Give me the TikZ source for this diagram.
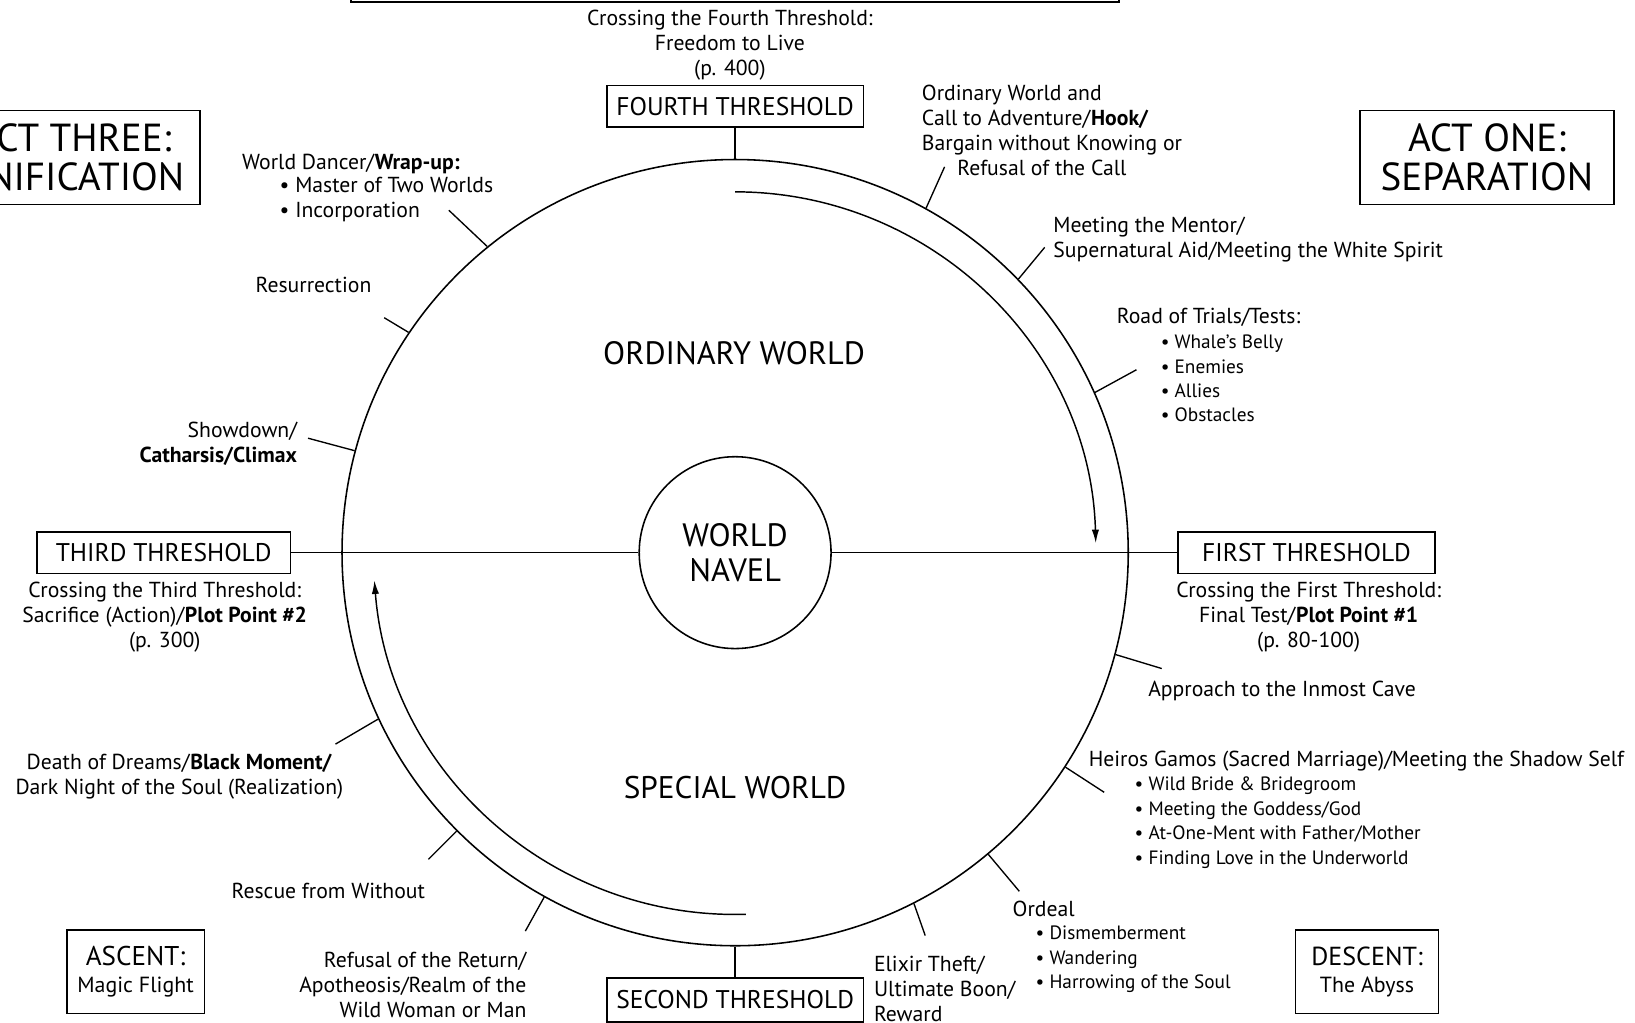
\documentclass[tikz,border=0pt]{standalone}
\usepackage{fontspec}
\setmainfont{PT Sans}
\usepackage{tikz}
\usetikzlibrary{arrows.meta, shapes}

\begin{document}
\begin{tikzpicture}[x=1pt, y=1pt]

	\tikzstyle{lbl}=[inner sep=0pt, font=\fontsize{20.8}{24}\selectfont]
	\tikzstyle{sml}=[inner sep=0pt, align=left, font=\fontsize{18.5}{23.4}\selectfont]
	\tikzstyle{thr}=[draw=black, line width=1.6pt, minimum width=246pt, minimum height=40pt, inner sep=0pt, font=\fontsize{24.5}{26}\selectfont]
	\tikzstyle{act}=[draw=black, line width=1.6pt, minimum width=244pt, minimum height=90pt, inner sep=0pt, align=center, font=\fontsize{37.5}{38}\selectfont]
	\tikzstyle{big}=[inner sep=0pt, align=center, font=\fontsize{31}{34}\selectfont]
	\tikzstyle{tick}=[line width=1.3pt]
	%%	\tikzstyle{arc}=[line width=1.3pt]

	\clip (0,0) rectangle (1568,981);
	\fill [white] (0,0) rectangle (1568,981);

	\node (wheel) at (705,451) [circle, draw=black, line width=1.5pt, minimum size=754pt, inner sep=0pt] {};
	\node (nav) at (705,451) [circle, draw=black, line width=1.5pt, minimum size=184pt, big] {WORLD\\NAVEL};

	\node (th4) at (705,879) [thr] {FOURTH THRESHOLD};
	\node (th1) at (1253,451) [thr] {FIRST THRESHOLD};
	\node (th3) at (157,451) [thr, minimum width=243pt] {THIRD THRESHOLD};
	\node (th2) at (705,22) [thr, minimum height=42pt] {SECOND THRESHOLD};

	\node (act1) at (1426,830) [act] {ACT ONE:\\SEPARATION};
	\node (act3) at (70,830) [act] {ACT THREE:\\UNIFICATION};
	\node (asc) at (130,49) [act, minimum width=132pt, minimum height=80pt, font=\fontsize{26}{26}\selectfont] {ASCENT:\\{\fontsize{21}{26}\selectfont Magic Flight}};
	\node (desc) at (1311,49) [act, minimum width=137pt, minimum height=80pt, font=\fontsize{25}{26}\selectfont] {DESCENT:\\{\fontsize{21}{26}\selectfont The Abyss}};

	\node (ord) at (704,642) [big] {ORDINARY WORLD};
	\node (spec) at (705,226) [big, font=\fontsize{30}{34}\selectfont] {SPECIAL WORLD};

	\draw [line width=1.4pt] (th3.east) -- (nav.west);
	\draw [line width=1.4pt] (nav.east) -- (th1.west);
	\draw [line width=1.4pt] (th4.south) -- (wheel.north);
	\draw [line width=1.4pt] (th2.north) -- (wheel.south);

	\draw [line width=1.4pt, -{Latex[length=13pt, width=7pt]}] ([shift={(90:346)}]wheel.center) arc [start angle=90, end angle=1.5, radius=346];
	\draw [line width=1.4pt, -{Latex[length=13pt, width=7pt]}] ([shift={(-88.3:347)}]wheel.center) arc [start angle=-88.3, end angle=-175.6, radius=347];

	\draw [tick] (wheel.61.5) -- ([shift={(61.5:421)}]wheel.center);
	\draw [tick] (wheel.44.6) -- ([shift={(44.6:417)}]wheel.center);
	\draw [tick] (wheel.24.5) -- ([shift={(24.5:423)}]wheel.center);
	\draw [tick] (wheel.-15.2) -- ([shift={(-15.2:424)}]wheel.center);
	\draw [tick] (wheel.-33) -- ([shift={(-33:422)}]wheel.center);
	\draw [tick] (wheel.-50) -- ([shift={(-50:424)}]wheel.center);
	\draw [tick] (wheel.-63.6) -- ([shift={(-63.6:410)}]wheel.center);
	\draw [tick] (wheel.-119) -- ([shift={(-119:415)}]wheel.center);
	\draw [tick] (wheel.-135) -- ([shift={(-135:416)}]wheel.center);
	\draw [tick] (wheel.205.6) -- ([shift={(205.6:425)}]wheel.center);
	\draw [tick] (wheel.165) -- ([shift={(165:424)}]wheel.center);
	\draw [tick] (wheel.146.2) -- ([shift={(146.2:405)}]wheel.center);
	\draw [tick] (wheel.129.9) -- ([shift={(129.9:428)}]wheel.center);

	\draw [line width=2pt] (337,979) rectangle (1073,1030);

	\node (cr4) at (700,938) [lbl, align=center] {Crossing the Fourth Threshold:\\Freedom to Live\\(p. 400)};
	\node (cr1) at (1255,389) [lbl, align=center] {Crossing the First Threshold:\\Final Test/\textbf{Plot Point \#1}\\(p. 80-100)};
	\node (cr3) at (158,389) [lbl, align=center] {Crossing the Third Threshold:\\Sacrifice (Action)/\textbf{Plot Point \#2}\\(p. 300)};

	\node (call) at (884,856) [lbl, anchor=west, align=left] {Ordinary World and\\Call to Adventure/\textbf{Hook/}\\Bargain without Knowing or\\\hspace*{34pt}Refusal of the Call};
	\node (ment) at (1010,751) [lbl, anchor=west, align=left] {Meeting the Mentor/\\Supernatural Aid/Meeting the White Spirit};
	\node (road) at (1071,677) [lbl, anchor=west] {Road of Trials/Tests:};
	\node (road1) at (1113,618) [sml, anchor=west] {• Whale's Belly\\• Enemies\\• Allies\\• Obstacles};
	\node (cave) at (1101,318) [lbl, anchor=west] {Approach to the Inmost Cave};
	\node (gam) at (1044,251) [lbl, anchor=west] {Heiros Gamos (Sacred Marriage)/Meeting the Shadow Self};
	\node (gam1) at (1088,192) [sml, anchor=west] {• Wild Bride \& Bridegroom\\• Meeting the Goddess/God\\• At-One-Ment with Father/Mother\\• Finding Love in the Underworld};
	\node (ordl) at (971,109) [lbl, anchor=west] {Ordeal};
	\node (ordl1) at (993,61) [sml, anchor=west] {• Dismemberment\\• Wandering\\• Harrowing of the Soul};
	\node (elix) at (838,33) [lbl, anchor=west, align=left] {Elixir Theft/\\Ultimate Boon/\\Reward};
	\node (refu) at (505,36) [lbl, anchor=east, align=right] {Refusal of the Return/\\Apotheosis/Realm of the\\Wild Woman or Man};
	\node (resc) at (222,127) [lbl, anchor=west] {Rescue from Without};
	\node (death) at (172,236) [lbl, align=center] {Death of Dreams/\textbf{Black Moment/}\\Dark Night of the Soul (Realization)};
	\node (show) at (285,555) [lbl, anchor=east, align=right] {Showdown/\\\textbf{Catharsis/Climax}};
	\node (resu) at (245,708) [lbl, anchor=west] {Resurrection};
	\node (danc) at (232,824) [lbl, anchor=west] {World Dancer/\textbf{Wrap-up:}};
	\node (danc1) at (268,789.5) [lbl, anchor=west, align=left] {• Master of Two Worlds\\• Incorporation};

\end{tikzpicture}
\end{document}
